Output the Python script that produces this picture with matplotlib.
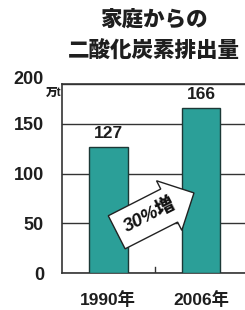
import matplotlib.pyplot as plt
import matplotlib.transforms as mtransforms

plt.rcParams['font.family'] = ['Liberation Sans', 'Noto Sans CJK JP', 'DejaVu Sans']

years = ['1990年', '2006年']
values = [127, 166]
yticks = [0, 50, 100, 150, 200]
title_lines = ['家庭からの', '二酸化炭素排出量']
unit = '万t'
note = '30%増'

ink = '#1e1e1e'
fig = plt.figure(figsize=(2.45, 3.10), dpi=100)
ax = fig.add_axes([62 / 245, 1 - 273 / 310, 190 / 245, 189 / 310])

# top frame is drawn a little lower than 200 in the original
ymax = 190
xs = [0.5, 1.5]
ax.bar(xs, values, width=0.42, color='#2b9f98', edgecolor='#1c3836', linewidth=1.0, zorder=3)
for x, v in zip(xs, values):
    ax.annotate(str(v), (x, v), xytext=(0, 4), textcoords='offset points',
                ha='center', va='bottom', fontsize=12.5, fontweight='bold', color=ink)

ax.set_xlim(0, 2.05)
ax.set_ylim(0, ymax)
ax.set_yticks(yticks[:-1] + [ymax])
ax.set_yticklabels([str(t) for t in yticks], fontsize=13, fontweight='bold', color=ink)
ax.tick_params(axis='y', length=0, pad=13)
ax.set_xticks(xs)
ax.set_xticklabels(years, fontsize=12.5, fontweight='bold', color=ink)
ax.tick_params(axis='x', length=0, pad=13)
ax.grid(axis='y', color='#333333', linewidth=1.0, zorder=0)
ax.axvline(1.0, ymin=0, ymax=0.03, color='#333333', linewidth=1.0)
for s in ['left', 'bottom', 'top']:
    ax.spines[s].set_color('#333333')
    ax.spines[s].set_linewidth(1.2)
ax.spines['right'].set_visible(False)

# raise the top tick label to leave room for the unit
lab = ax.get_yticklabels()[-1]
lab.set_transform(lab.get_transform() + mtransforms.ScaledTranslation(0, 7 / 100, fig.dpi_scale_trans))

ax.text(-0.005, 0.955, unit, transform=ax.transAxes, ha='right', va='center',
        fontsize=8.5, fontweight='heavy', color=ink)

ax.text(0.95, 58, note, rotation=27, ha='center', va='center', fontsize=13.5,
        fontweight='heavy', style='italic', color='#111111', zorder=5,
        bbox=dict(boxstyle='rarrow,pad=0.5', fc='white', ec='#222222', lw=1.0))

fig.text(154 / 245, 1 - 20 / 310, title_lines[0], ha='center', va='center',
         fontsize=15.5, fontweight='heavy', color=ink)
fig.text(154 / 245, 1 - 52 / 310, title_lines[1], ha='center', va='center',
         fontsize=15.5, fontweight='heavy', color=ink)

fig.savefig('out.png', dpi=100)
